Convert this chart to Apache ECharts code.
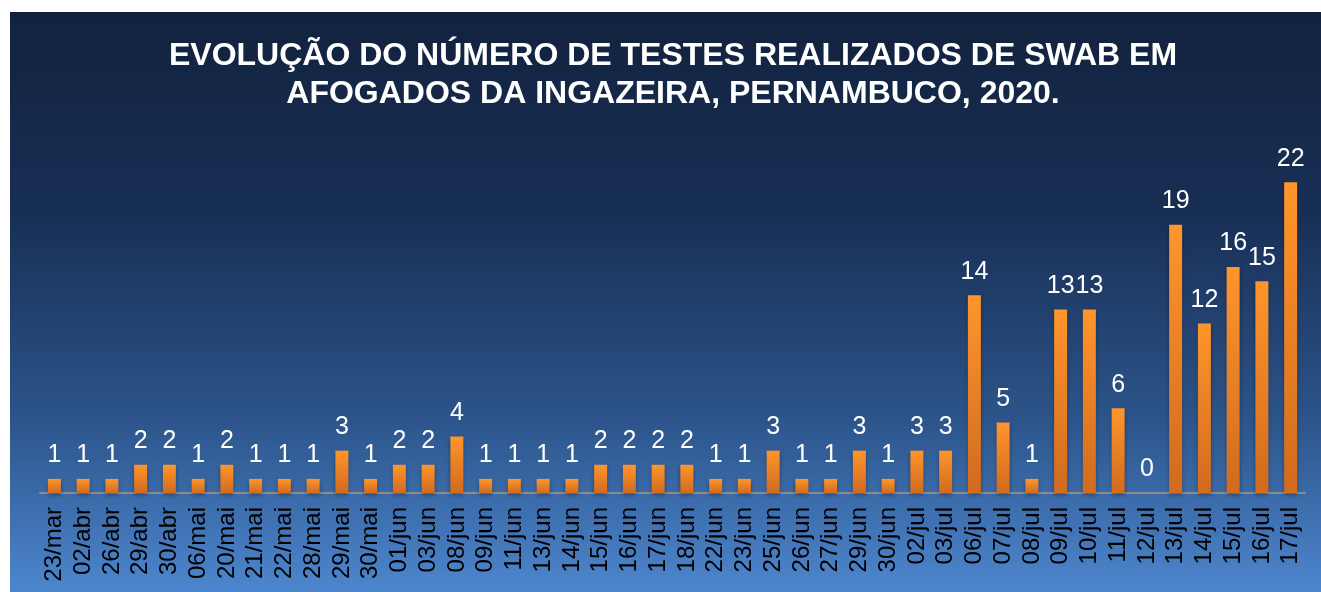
<!DOCTYPE html>
<html lang="pt">

<head>
  <meta charset="UTF-8">
  <script src="https://cdn.jsdelivr.net/npm/echarts@6/dist/echarts.min.js"></script>
  <title>Testes de SWAB</title>
</head>
<style>
  body {
    margin: 0;
    padding: 0;
    background: #ffffff;
    overflow: hidden;
  }

  #chart {
    position: absolute;
    left: 10px;
    top: 12px;
    width: 1311px;
    height: 580px;
  }
</style>

<body>
  <div id="chart"></div>
</body>
<script>
  var titleLines = ['EVOLUÇÃO DO NÚMERO DE TESTES REALIZADOS DE SWAB EM', 'AFOGADOS DA INGAZEIRA, PERNAMBUCO, 2020.'];

  var dates = ['23/mar', '02/abr', '26/abr', '29/abr', '30/abr', '06/mai', '20/mai', '21/mai', '22/mai', '28/mai',
    '29/mai', '30/mai', '01/jun', '03/jun', '08/jun', '09/jun', '11/jun', '13/jun', '14/jun', '15/jun',
    '16/jun', '17/jun', '18/jun', '22/jun', '23/jun', '25/jun', '26/jun', '27/jun', '29/jun', '30/jun',
    '02/jul', '03/jul', '06/jul', '07/jul', '08/jul', '09/jul', '10/jul', '11/jul', '12/jul', '13/jul',
    '14/jul', '15/jul', '16/jul', '17/jul'];

  var testes = [1, 1, 1, 2, 2, 1, 2, 1, 1, 1,
    3, 1, 2, 2, 4, 1, 1, 1, 1, 2,
    2, 2, 2, 1, 1, 3, 1, 1, 3, 1,
    3, 3, 14, 5, 1, 13, 13, 6, 0, 19,
    12, 16, 15, 22];

  var myChart = echarts.init(document.getElementById('chart'));

  myChart.setOption({
    animation: false,
    backgroundColor: new echarts.graphic.LinearGradient(0, 0, 0, 1, [
      { offset: 0, color: '#12223e' },
      { offset: 0.35, color: '#182f55' },
      { offset: 0.7, color: '#2c548a' },
      { offset: 1, color: '#4d86ce' }
    ]),
    title: {
      text: titleLines.join('\n'),
      left: 658,
      top: 20,
      textAlign: 'center',
      textStyle: {
        color: '#ffffff',
        fontFamily: 'Liberation Sans, Arial, sans-serif',
        fontWeight: 'bold',
        fontSize: 32,
        lineHeight: 38
      }
    },
    grid: {
      left: 30,
      right: 16,
      top: 128,
      bottom: 99
    },
    xAxis: {
      type: 'category',
      data: dates,
      axisLine: { lineStyle: { color: '#8c8c8c', width: 2 } },
      axisTick: { show: false },
      axisLabel: {
        rotate: 90,
        interval: 0,
        margin: 14,
        color: '#000000',
        fontFamily: 'Liberation Sans, Arial, sans-serif',
        fontSize: 24
      }
    },
    yAxis: {
      type: 'value',
      min: 0,
      max: 25,
      show: false,
      splitLine: { show: false }
    },
    series: [{
      type: 'bar',
      data: testes,
      barWidth: 13,
      itemStyle: {
        color: new echarts.graphic.LinearGradient(0, 0, 0, 1, [
          { offset: 0, color: '#ff952c' },
          { offset: 1, color: '#d06b1f' }
        ]),
        shadowColor: 'rgba(0,0,0,0.35)',
        shadowBlur: 4,
        shadowOffsetY: 2
      },
      label: {
        show: true,
        position: 'top',
        distance: 11,
        color: '#ffffff',
        fontFamily: 'Liberation Sans, Arial, sans-serif',
        fontSize: 25
      }
    }]
  });
</script>

</html>
